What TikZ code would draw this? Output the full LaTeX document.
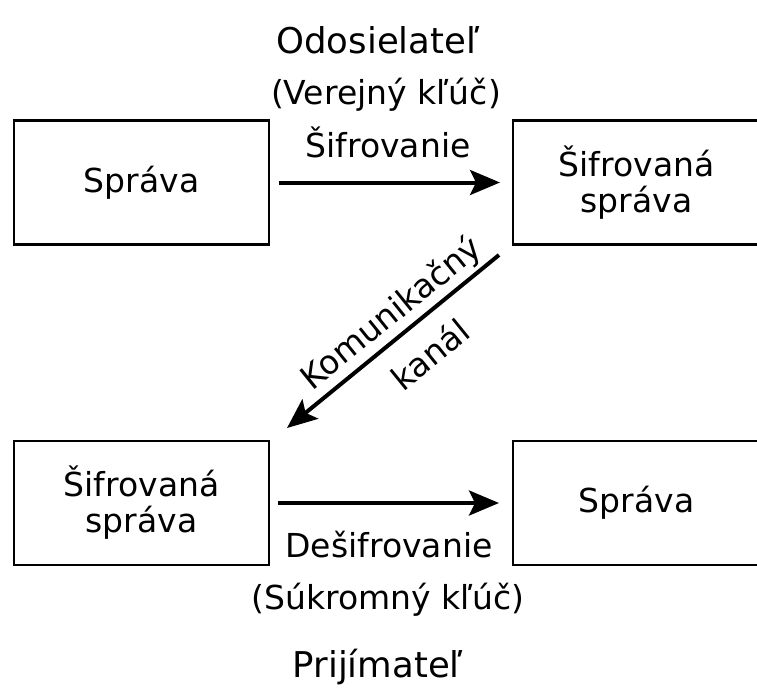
\documentclass[tikz,border=0pt]{standalone}
\usepackage{fontspec}
\setmainfont{DejaVu Sans}
\usetikzlibrary{arrows.meta}
\begin{document}
\begin{tikzpicture}[x=1pt,y=-1pt,
  box/.style={draw,line width=2.5pt,minimum height=124pt,inner sep=0pt,align=center,font=\fontsize{33}{36}\selectfont},
  lbl/.style={anchor=base,inner sep=0pt,font=\fontsize{33}{36}\selectfont},
  ttl/.style={anchor=base,inner sep=0pt,font=\fontsize{35.5}{40}\selectfont},
  rot/.style={inner sep=0pt,rotate=39,font=\fontsize{33}{36}\selectfont},
  conn/.style={line width=4pt,-{Stealth[length=30pt,width=25pt,inset=6pt]}}]
\useasboundingbox (0,0) rectangle (757,691);
\node[box,minimum width=255pt] (m1) at (141.5,182.5) {Správa};
\node[box,minimum width=247pt] (c1) at (636.5,182.5) {Šifrovaná\\správa};
\node[box,minimum width=255pt] (c2) at (141.5,503) {Šifrovaná\\správa};
\node[box,minimum width=247pt] (m2) at (636.5,503) {Správa};
\node[ttl] (snd) at (378,53) {Odosielateľ};
\node[lbl] (pub) at (386,104) {(Verejný kľúč)};
\node[lbl] (enc) at (388,157) {Šifrovanie};
\node[lbl] (dec) at (389,557) {Dešifrovanie};
\node[lbl] (prv) at (388,609) {(Súkromný kľúč)};
\node[ttl] (rcv) at (378,677) {Prijímateľ};
\node[rot] (ch1) at (392,314) {Komunikačný};
\node[rot] (ch2) at (430,354) {kanál};
\coordinate (a1s) at (279,182.5);
\coordinate (a1e) at (500,182.5);
\coordinate (a2s) at (278,503);
\coordinate (a2e) at (499,503);
\coordinate (a3s) at (499,255);
\coordinate (a3e) at (287,428);
\draw[conn] (a1s) -- (a1e);
\draw[conn] (a3s) -- (a3e);
\draw[conn] (a2s) -- (a2e);
\end{tikzpicture}
\end{document}
